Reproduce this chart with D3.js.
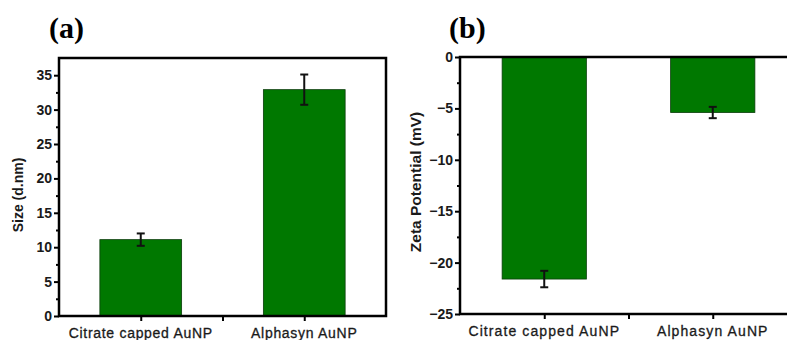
<!DOCTYPE html>
<html>
<head>
<meta charset="utf-8">
<script src="https://cdn.jsdelivr.net/npm/d3@7"></script>
<style>
body { margin: 0; background: #fff; }
svg { display: block; }
</style>
</head>
<body>
<script>
var width = 787;
var height = 340;

var categories = ["Citrate capped AuNP", "Alphasyn AuNP"];
var sizeValues = [11.1, 32.9];
var sizeErrors = [0.9, 2.2];
var zetaValues = [-21.6, -5.4];
var zetaErrors = [0.8, 0.55];
var sizeTicks = [0, 5, 10, 15, 20, 25, 30, 35];
var zetaTicks = [0, -5, -10, -15, -20, -25];

var svg = d3.select("body")
.append("svg")
.attr("width", width)
.attr("height", height);

function panel(opt){
	var g = svg.append("g");

	var x = d3.scaleLinear()
	.domain([0.5, 2.5])
	.range([opt.left, opt.right]);

	var y = d3.scaleLinear()
	.domain(opt.domain)
	.range([opt.bottom, opt.top]);

	var data = opt.values.map(function(v, i){
		return {pos: i + 1, value: v, err: opt.errors[i]};
	});

	// bars
	g.selectAll(".bar")
	.data(data)
	.enter()
	.append("rect")
	.attr("x", function(d){ return x(d.pos - 0.25); })
	.attr("width", function(d){ return x(d.pos + 0.25) - x(d.pos - 0.25); })
	.attr("y", function(d){ return Math.min(y(d.value), y(0)); })
	.attr("height", function(d){ return Math.abs(y(d.value) - y(0)); })
	.attr("fill", "#007800")
	.attr("stroke", "#0b3d0b")
	.attr("stroke-width", 0.8);

	// error bars
	var eb = g.selectAll(".err")
	.data(data)
	.enter()
	.append("g")
	.attr("stroke", "#111")
	.attr("stroke-width", 2);
	eb.append("line")
	.attr("x1", function(d){ return x(d.pos); })
	.attr("x2", function(d){ return x(d.pos); })
	.attr("y1", function(d){ return y(d.value - d.err); })
	.attr("y2", function(d){ return y(d.value + d.err); });
	eb.append("line")
	.attr("x1", function(d){ return x(d.pos) - 4; })
	.attr("x2", function(d){ return x(d.pos) + 4; })
	.attr("y1", function(d){ return y(d.value - d.err); })
	.attr("y2", function(d){ return y(d.value - d.err); });
	eb.append("line")
	.attr("x1", function(d){ return x(d.pos) - 4; })
	.attr("x2", function(d){ return x(d.pos) + 4; })
	.attr("y1", function(d){ return y(d.value + d.err); })
	.attr("y2", function(d){ return y(d.value + d.err); });

	// minor y ticks
	var minor = d3.range(opt.domain[0], opt.domain[1], opt.domain[1] > opt.domain[0] ? 2.5 : -2.5)
	.filter(function(v){ return opt.ticks.indexOf(v) < 0; });
	g.append("g")
	.attr("transform", "translate(" + opt.left + ",0)")
	.call(d3.axisLeft(y).tickValues(minor).tickSize(3).tickFormat(""))
	.call(function(a){ a.select(".domain").remove(); })
	.selectAll("line").attr("stroke", "#000").attr("stroke-width", 2);

	// y axis
	var ya = g.append("g")
	.attr("transform", "translate(" + opt.left + ",0)")
	.call(d3.axisLeft(y).tickValues(opt.ticks).tickSize(5).tickSizeOuter(0).tickPadding(2));
	ya.select(".domain").remove();
	ya.selectAll("line").attr("stroke", "#000").attr("stroke-width", 2);
	ya.selectAll("text")
	.attr("font-family", "Arial, 'Liberation Sans', sans-serif")
	.attr("font-size", opt.tickSize)
	.attr("font-weight", "bold")
	.attr("fill", "#1a1a1a");

	// x axis ticks
	var xa = g.append("g")
	.attr("transform", "translate(0," + opt.bottom + ")")
	.call(d3.axisBottom(x).tickValues([1, 1.5, 2]).tickSize(5).tickFormat(""));
	xa.select(".domain").remove();
	xa.selectAll("line").attr("stroke", "#000").attr("stroke-width", 2);

	// x category labels
	g.selectAll(".cat")
	.data(categories)
	.enter()
	.append("text")
	.attr("x", function(d, i){ return x(i + 1); })
	.attr("y", opt.bottom + 22)
	.attr("text-anchor", "middle")
	.attr("font-family", "Arial, 'Liberation Sans', sans-serif")
	.attr("font-size", "14px")
	.attr("letter-spacing", opt.catSpacing)
	.attr("stroke", "#1a1a1a")
	.attr("stroke-width", 0.3)
	.attr("fill", "#1a1a1a")
	.text(function(d){ return d; });

	// frame
	g.append("rect")
	.attr("x", opt.left)
	.attr("y", opt.top)
	.attr("width", opt.right - opt.left)
	.attr("height", opt.bottom - opt.top)
	.attr("fill", "none")
	.attr("stroke", "#000")
	.attr("stroke-width", 2.5);

	// y label
	g.append("text")
	.attr("transform", "translate(" + opt.ylabelX + "," + opt.ylabelY + ") rotate(-90)")
	.attr("text-anchor", "middle")
	.attr("font-family", "Arial, 'Liberation Sans', sans-serif")
	.attr("font-size", opt.ylabelSize)
	.attr("font-weight", "bold")
	.attr("fill", "#1a1a1a")
	.text(opt.ylabel);

	// panel letter
	g.append("text")
	.attr("x", opt.letterX)
	.attr("y", 38)
	.attr("font-family", "'Times New Roman', 'Liberation Serif', serif")
	.attr("font-size", "30px")
	.attr("font-weight", "bold")
	.attr("fill", "#000")
	.text(opt.letter);
}

panel({
	left: 59, right: 386, top: 58, bottom: 316,
	domain: [0, 37.5],
	values: sizeValues, errors: sizeErrors, ticks: sizeTicks,
	tickSize: "14px", catSpacing: "0.7px",
	ylabel: "Size (d.nm)", ylabelX: 23, ylabelY: 195, ylabelSize: "14px",
	letter: "(a)", letterX: 49
});

panel({
	left: 460, right: 797, top: 57, bottom: 314,
	domain: [-25, 0],
	values: zetaValues, errors: zetaErrors, ticks: zetaTicks,
	tickSize: "14px", catSpacing: "1.1px",
	ylabel: "Zeta Potential (mV)", ylabelX: 421, ylabelY: 182, ylabelSize: "15.5px",
	letter: "(b)", letterX: 449
});
</script>
</body>
</html>
